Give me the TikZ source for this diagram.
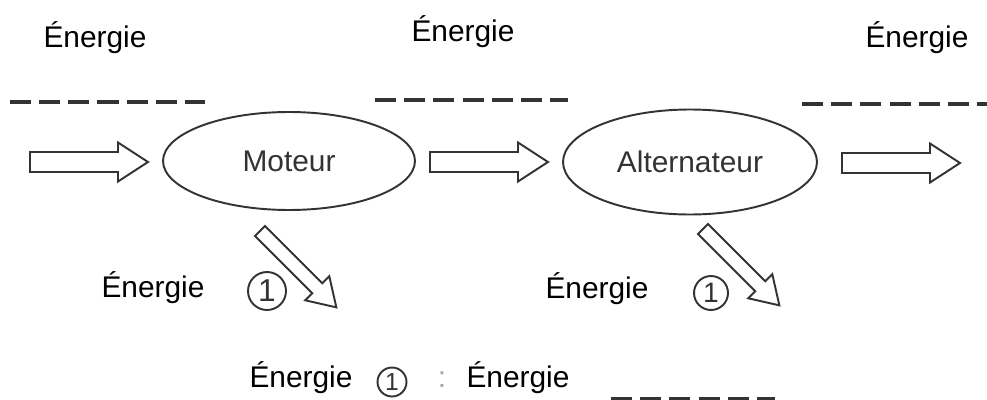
\documentclass[tikz,border=0pt]{standalone}
\usepackage{fontspec}
\setmainfont{Liberation Sans}
\usetikzlibrary{shapes.geometric}
\definecolor{ink}{HTML}{333333}
\tikzset{
  lbl/.style={anchor=base, inner sep=0pt, font=\fontsize{17}{20}\selectfont, text=black},
  blob/.style={ellipse, draw=ink, line width=1.1pt, font=\fontsize{17}{20}\selectfont, text=ink},
  blank/.style={draw=ink, line width=2.1pt, dash pattern=on 12pt off 4.6pt},
  arrline/.style={draw=ink, line width=1.1pt, line join=miter, fill=white},
  num/.style={circle, draw=ink, line width=1.1pt, inner sep=0pt, text=ink},
  harrow/.pic={\path[arrline] (0,-10) -- (88,-10) -- (88,-19.5) -- (118,0) -- (88,19.5) -- (88,10) -- (0,10) -- cycle;},
  darrow/.pic={\path[arrline] (0,-7) -- (81,-7) -- (81,-17) -- (108,0) -- (81,17) -- (81,7) -- (0,7) -- cycle;}
}
\begin{document}
\begin{tikzpicture}[x=0.02cm, y=-0.02cm]
\useasboundingbox (0,0) rectangle (987,399);
% top labels
\node[lbl] (t1) at (95,47) {Énergie};
\node[lbl] (t2) at (463,41) {Énergie};
\node[lbl] (t3) at (917,47) {Énergie};
% blanks
\coordinate (b1a) at (10,102); \coordinate (b1b) at (205,102);
\coordinate (b2a) at (375,100); \coordinate (b2b) at (568,100);
\coordinate (b3a) at (802,104); \coordinate (b3b) at (995,104);
\coordinate (b4a) at (611,399); \coordinate (b4b) at (775,399);
\draw[blank] (b1a) -- (b1b);
\draw[blank] (b2a) -- (b2b);
\draw[blank] (b3a) -- (b3b);
\draw[blank] (b4a) -- (b4b);
% ellipses
\node[blob, minimum width=5.04cm, minimum height=1.96cm] (mot) at (289,161) {Moteur};
\node[blob, minimum width=5.08cm, minimum height=2.10cm] (alt) at (690,162) {Alternateur};
% block arrows
\pic at (30,162) {harrow};
\pic at (430,162) {harrow};
\pic at (842,163) {harrow};
\pic[rotate=-45] at (260,231) {darrow};
\pic[rotate=-45] at (703,229) {darrow};
% lower labels
\node[lbl] (l1) at (153,297) {Énergie};
\node[num, minimum size=0.76cm, font=\fontsize{18}{18}\selectfont] (c1) at (267,291) {1};
\node[lbl] (l2) at (597,298) {Énergie};
\node[num, minimum size=0.68cm, font=\fontsize{16}{16}\selectfont] (c2) at (711,293) {1};
% legend
\node[lbl] (g1) at (301,387) {Énergie};
\node[num, minimum size=0.58cm, font=\fontsize{14}{14}\selectfont] (c3) at (392,382) {1};
\node[lbl, text=gray!70] (colon) at (442,387) {:};
\node[lbl] (g2) at (518,387) {Énergie};
\end{tikzpicture}
\end{document}
